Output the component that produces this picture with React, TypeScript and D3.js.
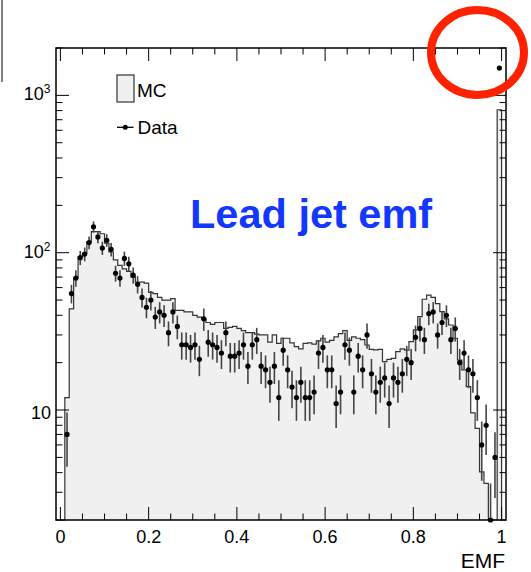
import React from "react";
import * as d3 from "d3";

// bin width 0.01, 100 bins from 0 to 1
const binEdges = d3.range(0, 101).map((i) => i / 100);

const mcValues = [
  0, 12, 44, 69, 94, 99, 117, 136, 136, 132,
  115, 101, 90, 83, 79, 76, 70, 65, 65, 64,
  56, 55, 52, 50, 50, 51, 43, 43, 42, 42,
  40, 39, 38, 36, 35, 36, 36, 33, 33.5, 34,
  33, 32, 31, 31, 30.4, 30, 30, 27, 30, 26.5,
  28.6, 28.6, 26.7, 25.3, 24.5, 26.5, 26.7, 26.2, 27.5, 28.6,
  27, 27.7, 29.2, 30.6, 32, 27.7, 29.2, 28.6, 28, 25.9,
  24.3, 24.1, 24.3, 20.3, 21, 21.3, 23.5, 24.5, 24, 27.2,
  32.3, 39.2, 50.6, 53.8, 52, 47.5, 42.2, 38, 34.7, 28.6,
  20.8, 18, 14.1, 9.6, 7.65, 4.05, 3.42, 0, 0, 810,
];

const dataValues = [
  0, 7, 55, 69, 93, 98, 116, 146, 126, 107,
  120, 105, 74, 69, 92, 85, 72, 63, 52, 45,
  50, 39, 42, 40, 31, 42, 34, 26, 26, 25,
  26, 21, 38, 27, 26, 25, 23, 31, 22, 22,
  23, 26, 19, 26, 28, 19, 18, 15, 19, 12,
  24, 18, 14, 12, 15, 12, 12, 13, 23, 25,
  18, 18, 11, 13, 26, 24, 13, 22, 18, 30,
  17, 13, 15, 16, 11, 16, 15, 17, 21, 20,
  29, 33, 28, 41, 42, 30, 36, 40, 28, 33,
  20, 23, 18, 17, 12, 6, 8, 2, 5, 1490,
];

const xMajorTicks = [0, 0.2, 0.4, 0.6, 0.8, 1];
const xTickLabels = ["0", "0.2", "0.4", "0.6", "0.8", "1"];
const yMajorTicks = [10, 100, 1000];
const yTickExponents = ["", "2", "3"];

const W = 531;
const H = 572;
const L = 56, R = 506, T = 48, B = 520;
const FONT = "'Liberation Sans', Arial, Helvetica, sans-serif";

export default function App() {
  const x = d3.scaleLinear().domain([-0.01, 1.01]).range([L, R]);
  const y = d3.scaleLog().domain([2, 2000]).range([B, T]);
  const yc = (v: number) => (v >= 2 ? Math.max(T, y(v)) : B);

  // MC step path
  let pts: [number, number][] = [[x(binEdges[0]), B]];
  mcValues.forEach((v, i) => {
    const yy = yc(v);
    pts.push([x(binEdges[i]), yy]);
    pts.push([x(binEdges[i + 1]), yy]);
  });
  pts.push([x(binEdges[binEdges.length - 1]), B]);
  const line = d3.line();
  const mcPath = line(pts) || "";

  const xMinor = d3.range(0, 21).map((i) => i * 0.05).filter((v) => Math.abs(v * 5 - Math.round(v * 5)) > 1e-6);
  const yMinor: number[] = [];
  [1, 10, 100, 1000].forEach((k) => {
    for (let m = 2; m <= 9; m++) {
      const v = k * m;
      if (v >= 2 && v <= 2000 && v !== 10 && v !== 100 && v !== 1000) yMinor.push(v);
    }
  });

  const majorLen = 13;
  const minorLen = 6.5;

  return (
    <svg width={W} height={H} style={{ position: "absolute", left: 0, top: 0, background: "#fff" }}>
      <rect x={0} y={0} width={W} height={H} fill="#fff" />
      {/* stray line at top-left */}
      <line x1={2} y1={0} x2={2} y2={82} stroke="#555" strokeWidth={1.5} />

      {/* MC histogram */}
      <path d={mcPath + "Z"} fill="#f0f0f0" stroke="none" />
      <path d={mcPath} fill="none" stroke="#333" strokeWidth={1.2} />

      {/* Data points */}
      {dataValues.map((v, i) => {
        if (v <= 0) return null;
        const cx = x((binEdges[i] + binEdges[i + 1]) / 2);
        const e = Math.sqrt(v);
        const y1 = v - e > 2 ? y(v - e) : B;
        const y2 = Math.max(T, y(v + e));
        const cy = yc(v);
        return (
          <g key={i}>
            <line x1={cx} x2={cx} y1={y1} y2={y2} stroke="#444" strokeWidth={1.6} />
            <circle cx={cx} cy={cy} r={2.6} fill="#000" />
          </g>
        );
      })}

      {/* x ticks bottom & top */}
      {xMajorTicks.map((v, i) => (
        <g key={"xm" + i}>
          <line x1={x(v)} x2={x(v)} y1={B} y2={B - majorLen} stroke="#000" strokeWidth={1} />
          <line x1={x(v)} x2={x(v)} y1={T} y2={T + majorLen} stroke="#000" strokeWidth={1} />
          <text x={x(v)} y={542.5} textAnchor="middle" fontFamily={FONT} fontSize={18} fill="#000">
            {xTickLabels[i]}
          </text>
        </g>
      ))}
      {xMinor.map((v, i) => (
        <g key={"xn" + i}>
          <line x1={x(v)} x2={x(v)} y1={B} y2={B - minorLen} stroke="#000" strokeWidth={1} />
          <line x1={x(v)} x2={x(v)} y1={T} y2={T + minorLen} stroke="#000" strokeWidth={1} />
        </g>
      ))}

      {/* y ticks left & right */}
      {yMajorTicks.map((v, i) => (
        <g key={"ym" + i}>
          <line x1={L} x2={L + majorLen} y1={y(v)} y2={y(v)} stroke="#000" strokeWidth={1} />
          <line x1={R} x2={R - majorLen} y1={y(v)} y2={y(v)} stroke="#000" strokeWidth={1} />
          <text
            x={yTickExponents[i] ? 50.5 : 51}
            y={y(v) + (yTickExponents[i] ? 5 : 9)}
            textAnchor="end"
            fontFamily={FONT}
            fontSize={18}
            fill="#000"
          >
            10
            {yTickExponents[i] ? (
              <tspan fontSize={12} dy={-7}>
                {yTickExponents[i]}
              </tspan>
            ) : null}
          </text>
        </g>
      ))}
      {yMinor.map((v, i) => (
        <g key={"yn" + i}>
          <line x1={L} x2={L + minorLen} y1={y(v)} y2={y(v)} stroke="#000" strokeWidth={1} />
          <line x1={R} x2={R - minorLen} y1={y(v)} y2={y(v)} stroke="#000" strokeWidth={1} />
        </g>
      ))}

      {/* frame */}
      <rect x={L} y={T} width={R - L} height={B - T} fill="none" stroke="#000" strokeWidth={1.5} />

      {/* axis title */}
      <text x={505} y={568} textAnchor="end" fontFamily={FONT} fontSize={21} fill="#000">
        EMF
      </text>

      {/* legend */}
      <rect x={117} y={75} width={17} height={27} fill="#f0f0f0" stroke="#333" strokeWidth={1.2} />
      <text x={137} y={96.5} fontFamily={FONT} fontSize={19} fill="#000">
        MC
      </text>
      <line x1={117} x2={133.5} y1={127.3} y2={127.3} stroke="#000" strokeWidth={1.3} />
      <circle cx={125.3} cy={127.3} r={2.5} fill="#000" />
      <text x={137.5} y={134.3} fontFamily={FONT} fontSize={19} fill="#000">
        Data
      </text>

      {/* title */}
      <text x={190} y={228} fontFamily={FONT} fontSize={41.5} fontWeight="bold" fill="#1238ff">
        Lead jet emf
      </text>

      {/* red circle annotation */}
      <ellipse cx={477.5} cy={52.5} rx={46.5} ry={42.5} fill="none" stroke="#ff2200" strokeWidth={8} />
    </svg>
  );
}
